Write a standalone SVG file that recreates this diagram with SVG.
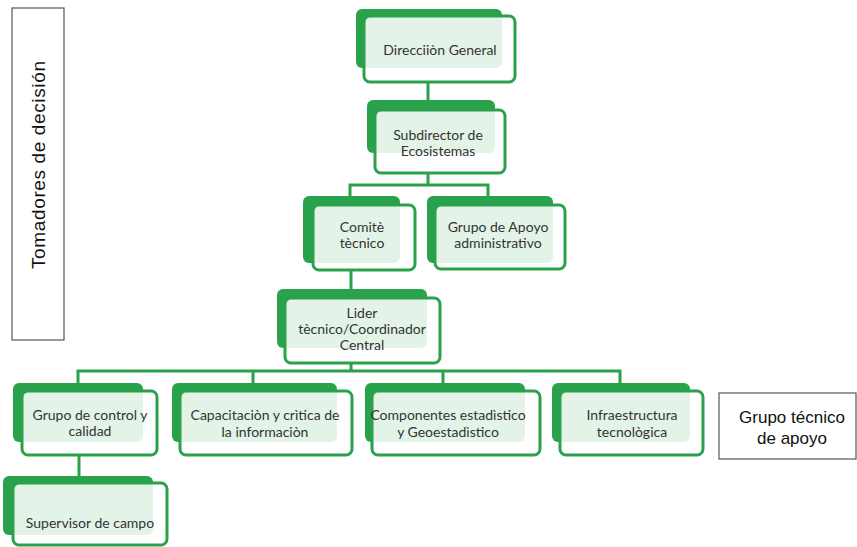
<svg xmlns="http://www.w3.org/2000/svg" width="857" height="547" viewBox="0 0 857 547">
<style>
.back{fill:#2aa24b;}
.front{fill:#ffffff;fill-opacity:0.87;stroke:#2aa24b;stroke-width:3;}
.conn{stroke:#2aa24b;stroke-width:3;fill:none;}
.t{font-family:Lato,"Open Sans",sans-serif;font-size:14px;fill:#333;text-anchor:middle;}
.side{fill:#fff;stroke:#555;stroke-width:1.2;}
.st{font-family:"Liberation Sans",Arial,sans-serif;font-size:17px;fill:#111;text-anchor:middle;}
.sv{font-family:"Liberation Sans",Arial,sans-serif;font-size:19px;fill:#111;text-anchor:middle;}
</style>
<rect width="857" height="547" fill="#fff"/>
<g id="connectors">
<path class="conn" d="M428,82V110"/>
<path class="conn" d="M428,173V185M350,196V185H488V196"/>
<path class="conn" d="M351,270V289"/>
<path class="conn" d="M351,363V371M78,383V371H620V383M253,371V383M443,371V383"/>
<path class="conn" d="M79,455V477"/>
</g>
<g id="tomadores">
<rect class="side" x="12" y="8" width="52" height="332"/>
<text class="sv" transform="translate(45,165) rotate(-90)" textLength="208" lengthAdjust="spacing">Tomadores de decisión</text>
</g>
<g id="grupo-tecnico">
<rect class="side" x="719" y="393" width="137" height="66"/>
<text class="st" x="792" y="423">Grupo técnico</text>
<text class="st" x="792" y="444">de apoyo</text>
</g>
<g id="direccion">
<rect class="back" x="356" y="9" width="146" height="59" rx="6"/>
<rect class="front" x="364" y="16" width="151" height="66" rx="6"/>
<text class="t" x="440" y="55">Direcciiòn General</text>
</g>
<g id="subdirector">
<rect class="back" x="367" y="100" width="128" height="53" rx="6"/>
<rect class="front" x="375" y="110" width="130" height="63" rx="6"/>
<text class="t" x="438" y="140">Subdirector de</text>
<text class="t" x="438" y="156">Ecosistemas</text>
</g>
<g id="comite">
<rect class="back" x="303" y="196" width="97" height="67" rx="6"/>
<rect class="front" x="313" y="205" width="102" height="65" rx="6"/>
<text class="t" x="362" y="232">Comitè</text>
<text class="t" x="362" y="248">tècnico</text>
</g>
<g id="apoyo">
<rect class="back" x="427" y="196" width="126" height="67" rx="6"/>
<rect class="front" x="435" y="205" width="130" height="64" rx="6"/>
<text class="t" x="498" y="232">Grupo de Apoyo</text>
<text class="t" x="498" y="248">administrativo</text>
</g>
<g id="lider">
<rect class="back" x="277" y="289" width="150" height="59" rx="6"/>
<rect class="front" x="285" y="298" width="155" height="65" rx="6"/>
<text class="t" x="362" y="318">Lider</text>
<text class="t" x="362" y="334">tècnico/Coordinador</text>
<text class="t" x="362" y="350">Central</text>
</g>
<g id="control">
<rect class="back" x="13" y="383" width="130" height="59" rx="6"/>
<rect class="front" x="22" y="391" width="135" height="64" rx="6"/>
<text class="t" x="90" y="420">Grupo de control y</text>
<text class="t" x="90" y="436">calidad</text>
</g>
<g id="capacitacion">
<rect class="back" x="172" y="383" width="165" height="59" rx="6"/>
<rect class="front" x="180" y="391" width="172" height="64" rx="6"/>
<text class="t" x="265" y="420">Capacitaciòn y crìtica de</text>
<text class="t" x="265" y="437">la informaciòn</text>
</g>
<g id="componentes">
<rect class="back" x="365" y="383" width="160" height="59" rx="6"/>
<rect class="front" x="372" y="391" width="168" height="64" rx="6"/>
<text class="t" x="448" y="420">Componentes estadìstico</text>
<text class="t" x="448" y="437">y Geoestadìstico</text>
</g>
<g id="infraestructura">
<rect class="back" x="552" y="383" width="138" height="59" rx="6"/>
<rect class="front" x="560" y="391" width="143" height="64" rx="6"/>
<text class="t" x="632" y="420">Infraestructura</text>
<text class="t" x="632" y="437">tecnològica</text>
</g>
<g id="supervisor">
<rect class="back" x="3" y="476" width="150" height="59" rx="6"/>
<rect class="front" x="13" y="483" width="154" height="62" rx="6"/>
<text class="t" x="90" y="528">Supervisor de campo</text>
</g>
</svg>
